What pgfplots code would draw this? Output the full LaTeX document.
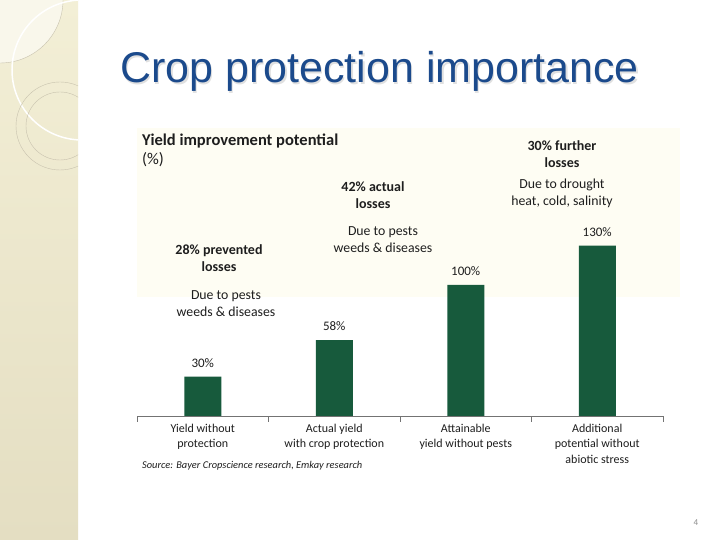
\documentclass[border=0pt]{standalone}
\usepackage{pgfplots}
\pgfplotsset{compat=1.18}
\usepackage{fontspec}
\setmainfont{Carlito}
\newfontfamily\titlefont{Liberation Sans}
\definecolor{bargreen}{RGB}{23,90,60}
\definecolor{titleblue}{RGB}{27,74,140}
\definecolor{striptop}{RGB}{243,239,214}
\definecolor{stripbot}{RGB}{228,222,194}
\definecolor{cream}{RGB}{254,253,243}
\definecolor{txt}{RGB}{30,30,30}
\definecolor{circ}{RGB}{200,194,174}
\begin{document}
\begin{tikzpicture}[x=1pt,y=1pt]
\fill[white] (0,0) rectangle (720,540);
% left decorative strip
\shade[top color=striptop,bottom color=stripbot] (0,0) rectangle (78,540);
\begin{scope}
\clip (0,0) rectangle (78,540);
\fill[white!50!striptop] (0,540) -- (63,540) arc[start angle=0,end angle=-90,radius=63] -- cycle;
\draw[circ,line width=0.4pt] (63,540) arc[start angle=0,end angle=-90,radius=63];
\draw[white,line width=1.5pt] (82,470) circle (70);
\draw[circ,line width=0.4pt] (60,414) circle (44);
\draw[circ,line width=0.4pt] (60,414) circle (34);
\end{scope}
% chart background
\fill[cream] (137,243) rectangle (680,412);
% title
\node[inner sep=0,anchor=base west,font=\titlefont\fontsize{43}{50}\selectfont,text=black!12] at (121.5,455.5) {Crop protection importance};
\node[inner sep=0,anchor=base west,font=\titlefont\fontsize{43}{50}\selectfont,text=titleblue] at (120,457) {Crop protection importance};
% chart title
\node[inner sep=0,anchor=west,align=left,font=\bfseries\fontsize{16.5}{19}\selectfont,text=txt] at (142,389.5) {Yield improvement potential\\\mdseries(\%)};
% annotations
\node[inner sep=0,align=center,font=\bfseries\fontsize{14}{17}\selectfont,text=txt] at (219,281.5) {28\% prevented\\losses};
\node[inner sep=0,align=center,font=\fontsize{13.8}{17}\selectfont,text=txt] at (226,236.5) {Due to pests\\weeds \& diseases};
\node[inner sep=0,align=center,font=\bfseries\fontsize{14}{17}\selectfont,text=txt] at (373,344.5) {42\% actual\\losses};
\node[inner sep=0,align=center,font=\fontsize{13.8}{17}\selectfont,text=txt] at (383,300.5) {Due to pests\\weeds \& diseases};
\node[inner sep=0,align=center,font=\bfseries\fontsize{14}{17}\selectfont,text=txt] at (562,385.5) {30\% further\\losses};
\node[inner sep=0,align=center,font=\fontsize{13.8}{17}\selectfont,text=txt] at (562,346.5) {Due to drought\\heat, cold, salinity};
% source
\node[inner sep=0,anchor=west,font=\itshape\fontsize{10.4}{12}\selectfont,text=txt] at (142,74) {Source: Bayer Cropscience research, Emkay research};
% page number
\node[inner sep=0,font=\fontsize{9}{11}\selectfont,text=black!45] at (696,17) {4};
\begin{axis}[
  at={(137pt,124pt)}, anchor=south west, scale only axis,
  width=526pt, height=183.4pt,
  xmin=-0.5, xmax=3.5, ymin=0, ymax=140,
  axis x line=bottom, axis y line=none,
  axis line style={-, draw=black!55, line width=0.6pt},
  xtick={0,1,2,3},
  xticklabels={{Yield without\\protection},{Actual yield\\with crop protection},{Attainable\\yield without pests},{Additional\\potential without\\abiotic stress}},
  xticklabel style={align=center, font=\fontsize{12}{15.5}\selectfont, text=txt, anchor=north, yshift=-4.5pt},
  major tick length=0pt,
  minor xtick={-0.5,0.5,1.5,2.5,3.5},
  minor tick length=6pt,
  tick align=outside,
  tick style={draw=black!55, line width=0.6pt},
  ybar, bar width=37pt,
  /pgf/number format/assume math mode=true,
  nodes near coords={\pgfmathprintnumber{\pgfplotspointmeta}\%},
  nodes near coords style={font=\fontsize{13}{15}\selectfont, text=txt, yshift=6pt},
  clip=false,
]
\addplot[fill=bargreen, draw=none] coordinates {(0,30) (1,58) (2,100) (3,130)};
\end{axis}
\end{tikzpicture}
\end{document}
